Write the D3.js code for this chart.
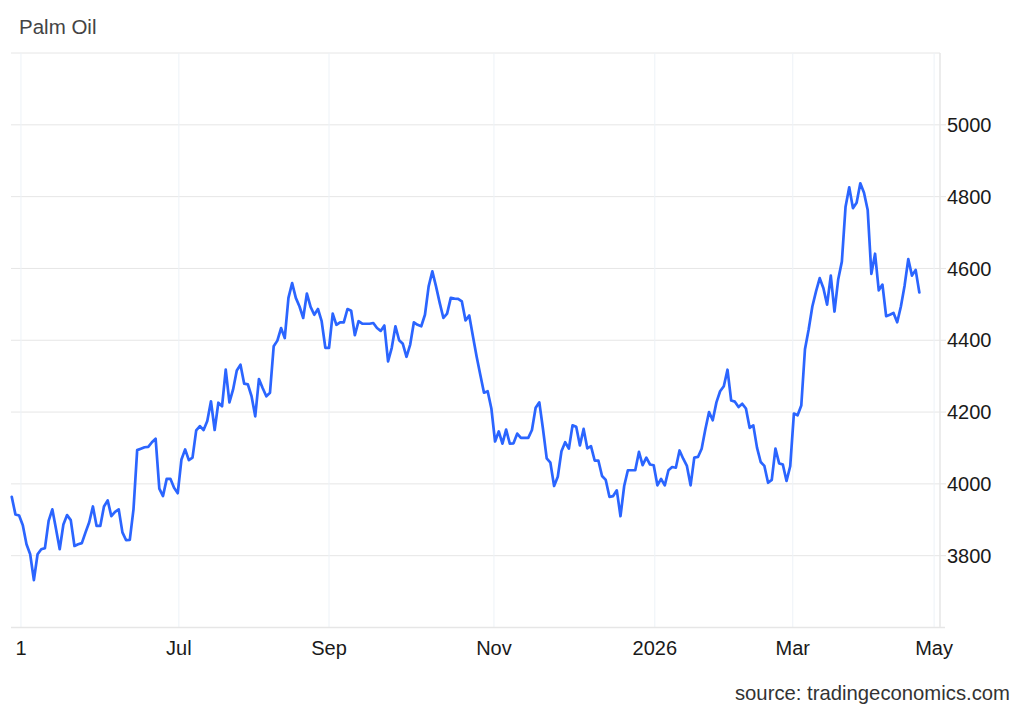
<!DOCTYPE html>
<html>
<head>
<meta charset="utf-8">
<script src="https://cdn.jsdelivr.net/npm/d3@7"></script>
<style>
  html, body { margin: 0; padding: 0; background: #fff; }
  svg { display: block; font-family: "Liberation Sans", Arial, sans-serif; }
</style>
</head>
<body>
<svg id="chart" width="1024" height="710"></svg>
<script>
// ---- Data (daily closes) ----
const title = "Palm Oil";
const source = "source: tradingeconomics.com";
const prices = [
  3964,3915,3912,3885,3832,3804,3732,3804,3818,3821,
  3897,3929,3874,3818,3887,3913,3899,3827,3832,3835,
  3865,3893,3937,3883,3883,3937,3954,3910,3922,3929,
  3865,3843,3844,3929,4094,4098,4102,4103,4116,4126,
  3987,3966,4014,4014,3989,3974,4068,4096,4066,4073,
  4149,4161,4150,4175,4230,4150,4226,4216,4318,4227,
  4263,4316,4332,4279,4277,4244,4188,4292,4267,4244,
  4254,4383,4399,4434,4406,4518,4559,4518,4494,4462,
  4530,4493,4471,4487,4453,4379,4379,4474,4443,4450,
  4450,4487,4482,4414,4453,4446,4446,4446,4448,4434,
  4426,4441,4341,4379,4439,4400,4390,4354,4388,4450,
  4443,4439,4471,4550,4592,4550,4504,4462,4474,4518,
  4516,4515,4508,4455,4469,4411,4355,4304,4254,4258,
  4210,4118,4146,4112,4151,4112,4113,4140,4128,4128,
  4128,4150,4212,4227,4152,4071,4059,3994,4020,4091,
  4116,4098,4163,4159,4107,4153,4099,4105,4065,4065,
  4022,4011,3964,3966,3982,3910,3994,4038,4038,4038,
  4089,4052,4073,4054,4052,3996,4014,3996,4038,4047,
  4045,4093,4070,4050,3996,4073,4075,4098,4152,4200,
  4177,4227,4258,4272,4318,4232,4229,4214,4223,4210,
  4156,4163,4101,4061,4050,4003,4011,4098,4057,4054,
  4008,4049,4196,4191,4218,4375,4430,4494,4536,4573,
  4545,4499,4580,4480,4569,4619,4772,4826,4768,4783,
  4837,4811,4763,4585,4641,4539,4555,4467,4471,4476,
  4450,4494,4552,4626,4580,4596,4533
];
// month ticks, positioned by trading-day index
const xTickIdx = [2.5, 45.3, 86, 130.7, 174.3, 211.7, 250];
const xTickLabels = ["1", "Jul", "Sep", "Nov", "2026", "Mar", "May"];
const yTicks = [3800, 4000, 4200, 4400, 4600, 4800, 5000];
const yDomain = [3600, 5200];
const xDomain = [-0.2, 251.6];

// ---- Layout ----
const svg = d3.select("#chart");
const L = 11, R = 940, T = 53, B = 627.5;

const x = d3.scaleLinear().domain(xDomain).range([L, R]);
const y = d3.scaleLinear().domain(yDomain).range([B, T]);

// horizontal gridlines + top border
svg.append("g").selectAll("line").data(yTicks.concat([yDomain[1]])).join("line")
  .attr("x1", L)
  .attr("x2", d => d === yDomain[1] ? R : R + 6)
  .attr("y1", d => y(d)).attr("y2", d => y(d))
  .attr("stroke", "#e6e6e6").attr("stroke-width", 1);

// vertical gridlines
svg.append("g").selectAll("line").data(xTickIdx).join("line")
  .attr("x1", d => x(d)).attr("x2", d => x(d))
  .attr("y1", T).attr("y2", B)
  .attr("stroke", "#edf2f7").attr("stroke-width", 1);

// right axis line and bottom axis line
svg.append("line").attr("x1", R).attr("x2", R).attr("y1", T).attr("y2", B)
  .attr("stroke", "#e6e6e6").attr("stroke-width", 1.5);
svg.append("line").attr("x1", L).attr("x2", R + 5).attr("y1", B).attr("y2", B)
  .attr("stroke", "#e6e6e6").attr("stroke-width", 1.5);

// y labels
svg.append("g").selectAll("text").data(yTicks).join("text")
  .attr("x", 947).attr("y", d => y(d)).attr("dy", "0.36em")
  .attr("font-size", 20).attr("fill", "#1a1a1a")
  .text(d => d);

// x labels
svg.append("g").selectAll("text").data(xTickIdx).join("text")
  .attr("x", d => x(d)).attr("y", 655)
  .attr("text-anchor", "middle")
  .attr("font-size", 20).attr("fill", "#1a1a1a")
  .text((d, i) => xTickLabels[i]);

// line
const line = d3.line().x((d, i) => x(i)).y(d => y(d));
svg.append("path").datum(prices)
  .attr("d", line)
  .attr("fill", "none")
  .attr("stroke", "#2b65ff")
  .attr("stroke-width", 2.7)
  .attr("stroke-linejoin", "round")
  .attr("stroke-linecap", "round");

// title & source
svg.append("text").attr("x", 19).attr("y", 34)
  .attr("font-size", 20.5).attr("fill", "#444").text(title);
svg.append("text").attr("x", 1010).attr("y", 700)
  .attr("text-anchor", "end")
  .attr("font-size", 20.3).attr("fill", "#333").text(source);
</script>
</body>
</html>
